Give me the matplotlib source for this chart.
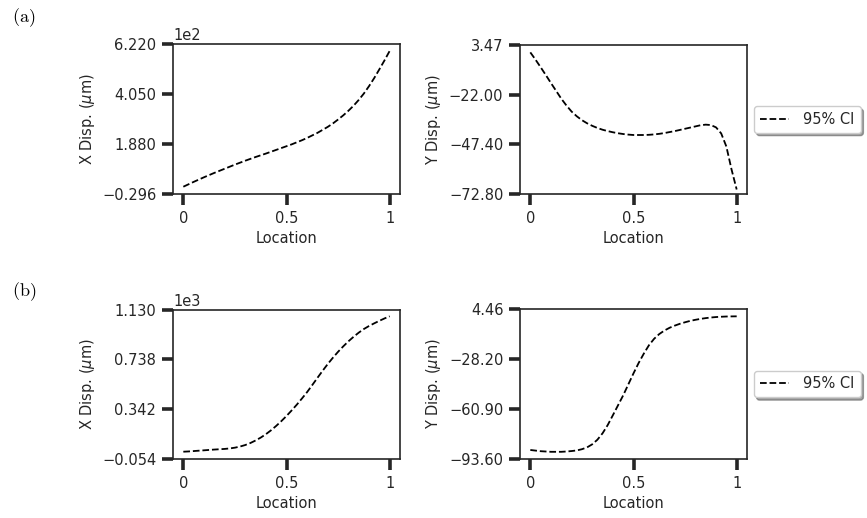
import matplotlib
matplotlib.use("Agg")
import matplotlib.pyplot as plt
from matplotlib.ticker import FixedFormatter, FixedLocator

# location along the member, steps of 0.025
location = [0, 0.025, 0.05, 0.075, 0.1, 0.125, 0.15, 0.175, 0.2, 0.225,
            0.25, 0.275, 0.3, 0.325, 0.35, 0.375, 0.4, 0.425, 0.45, 0.475,
            0.5, 0.525, 0.55, 0.575, 0.6, 0.625, 0.65, 0.675, 0.7, 0.725,
            0.75, 0.775, 0.8, 0.825, 0.85, 0.875, 0.9, 0.925, 0.95, 0.975, 1.0]

# (a) displacements, um
a_x_disp = [2, 12.5, 23, 33, 43, 52.5, 62, 71, 80, 89,
            98, 106.5, 115, 123, 131, 138.5, 146, 154, 162, 170,
            178, 186, 195, 204, 214, 225, 236, 249, 262, 277,
            294, 312, 332, 354, 379, 407, 439, 474, 512, 551, 592]
a_y_disp = [-0.3, -4.0, -7.9, -11.9, -16.0, -20.0, -24.0, -27.5, -30.6, -33.0,
            -35.0, -36.6, -37.9, -39.0, -39.9, -40.6, -41.2, -41.7, -42.1, -42.4,
            -42.6, -42.6, -42.6, -42.5, -42.3, -42.0, -41.6, -41.1, -40.6, -40.0,
            -39.4, -38.8, -38.2, -37.6, -37.3, -37.5, -38.7, -41.8, -48.5, -60.2, -70.5]

# (b) displacements, um
b_x_disp = [4, 6, 9, 12, 15, 18, 21, 23.5, 26, 30,
            36, 45, 57, 73, 93, 116, 143, 174, 209, 247,
            288, 332, 378, 427, 478, 534, 591, 647, 701, 751,
            798, 841, 881, 917, 950, 979, 1003, 1024, 1044, 1063, 1080]
b_y_disp = [-87.7, -88.1, -88.5, -88.7, -88.9, -88.9, -88.9, -88.7, -88.4, -88.0,
            -87.2, -86.0, -84.0, -81.0, -76.8, -71.4, -65.0, -58.5, -52.0, -44.8,
            -37.6, -30.8, -24.7, -19.2, -15.0, -11.9, -9.6, -7.8, -6.4, -5.2,
            -4.2, -3.3, -2.6, -2.0, -1.5, -1.1, -0.8, -0.6, -0.45, -0.38, -0.33]

# y tick values and labels per panel
a_x_ticks = [-29.6, 188, 405, 622]
a_y_ticks = [-72.8, -47.4, -22.0, 3.47]
a_y_labels = ["\u221272.80", "\u221247.40", "\u221222.00", "3.47"]
b_x_ticks = [-54, 342, 738, 1130]
b_y_ticks = [-93.6, -60.9, -28.2, 4.46]
b_y_labels = ["\u221293.60", "\u221260.90", "\u221228.20", "4.46"]

DARK = "#262626"
plt.rcParams.update({
    "font.family": "DejaVu Sans",
    "font.size": 10.5,
    "axes.edgecolor": DARK,
    "axes.linewidth": 1.2,
    "text.color": DARK,
    "axes.labelcolor": DARK,
    "xtick.color": DARK,
    "ytick.color": DARK,
})

fig = plt.figure(figsize=(8.67, 5.18), dpi=100)

W, H = 867, 518
def box(left, top, right, bottom):
    return [left / W, 1 - bottom / H, (right - left) / W, (bottom - top) / H]

axes = {
    "a_x": fig.add_axes(box(173, 44, 400, 194)),
    "a_y": fig.add_axes(box(520, 45, 747, 194)),
    "b_x": fig.add_axes(box(173, 310, 400, 459)),
    "b_y": fig.add_axes(box(520, 309, 747, 459)),
}

def style(ax, ylabel):
    ax.set_xlim(-0.05, 1.05)
    ax.set_xticks([0, 0.5, 1])
    ax.set_xticklabels(["0", "0.5", "1"])
    ax.set_xlabel("Location")
    ax.set_ylabel(ylabel)
    ax.tick_params(length=8, width=2.6, pad=4)

def add_legend(ax):
    ax.legend(loc="center left", bbox_to_anchor=(1.03, 0.5), shadow=True,
              framealpha=1, fontsize=10.5, borderaxespad=0,
              handletextpad=1.0, edgecolor="#cccccc")

ax = axes["a_x"]
ax.plot(location, a_x_disp, "--", color="black", lw=1.3, label="95% CI")
ax.set_ylim(a_x_ticks[0], a_x_ticks[-1])
ax.set_yticks(a_x_ticks)
ax.ticklabel_format(axis="y", style="sci", scilimits=(0, 0))
style(ax, r"X Disp. ($\mu$m)")

ax = axes["a_y"]
ax.plot(location, a_y_disp, "--", color="black", lw=1.3, label="95% CI")
ax.set_ylim(a_y_ticks[0], a_y_ticks[-1])
ax.yaxis.set_major_locator(FixedLocator(a_y_ticks))
ax.yaxis.set_major_formatter(FixedFormatter(a_y_labels))
style(ax, r"Y Disp. ($\mu$m)")
add_legend(ax)

ax = axes["b_x"]
ax.plot(location, b_x_disp, "--", color="black", lw=1.3, label="95% CI")
ax.set_ylim(b_x_ticks[0], b_x_ticks[-1])
ax.set_yticks(b_x_ticks)
ax.ticklabel_format(axis="y", style="sci", scilimits=(0, 0))
style(ax, r"X Disp. ($\mu$m)")

ax = axes["b_y"]
ax.plot(location, b_y_disp, "--", color="black", lw=1.3, label="95% CI")
ax.set_ylim(b_y_ticks[0], b_y_ticks[-1])
ax.yaxis.set_major_locator(FixedLocator(b_y_ticks))
ax.yaxis.set_major_formatter(FixedFormatter(b_y_labels))
style(ax, r"Y Disp. ($\mu$m)")
add_legend(ax)

fig.text(12 / W, 1 - 6 / H, r"$\mathrm{(a)}$", math_fontfamily="cm",
         fontsize=13, va="top", ha="left", color="black")
fig.text(12 / W, 1 - 280 / H, r"$\mathrm{(b)}$", math_fontfamily="cm",
         fontsize=13, va="top", ha="left", color="black")

fig.savefig("out.png", dpi=100)
